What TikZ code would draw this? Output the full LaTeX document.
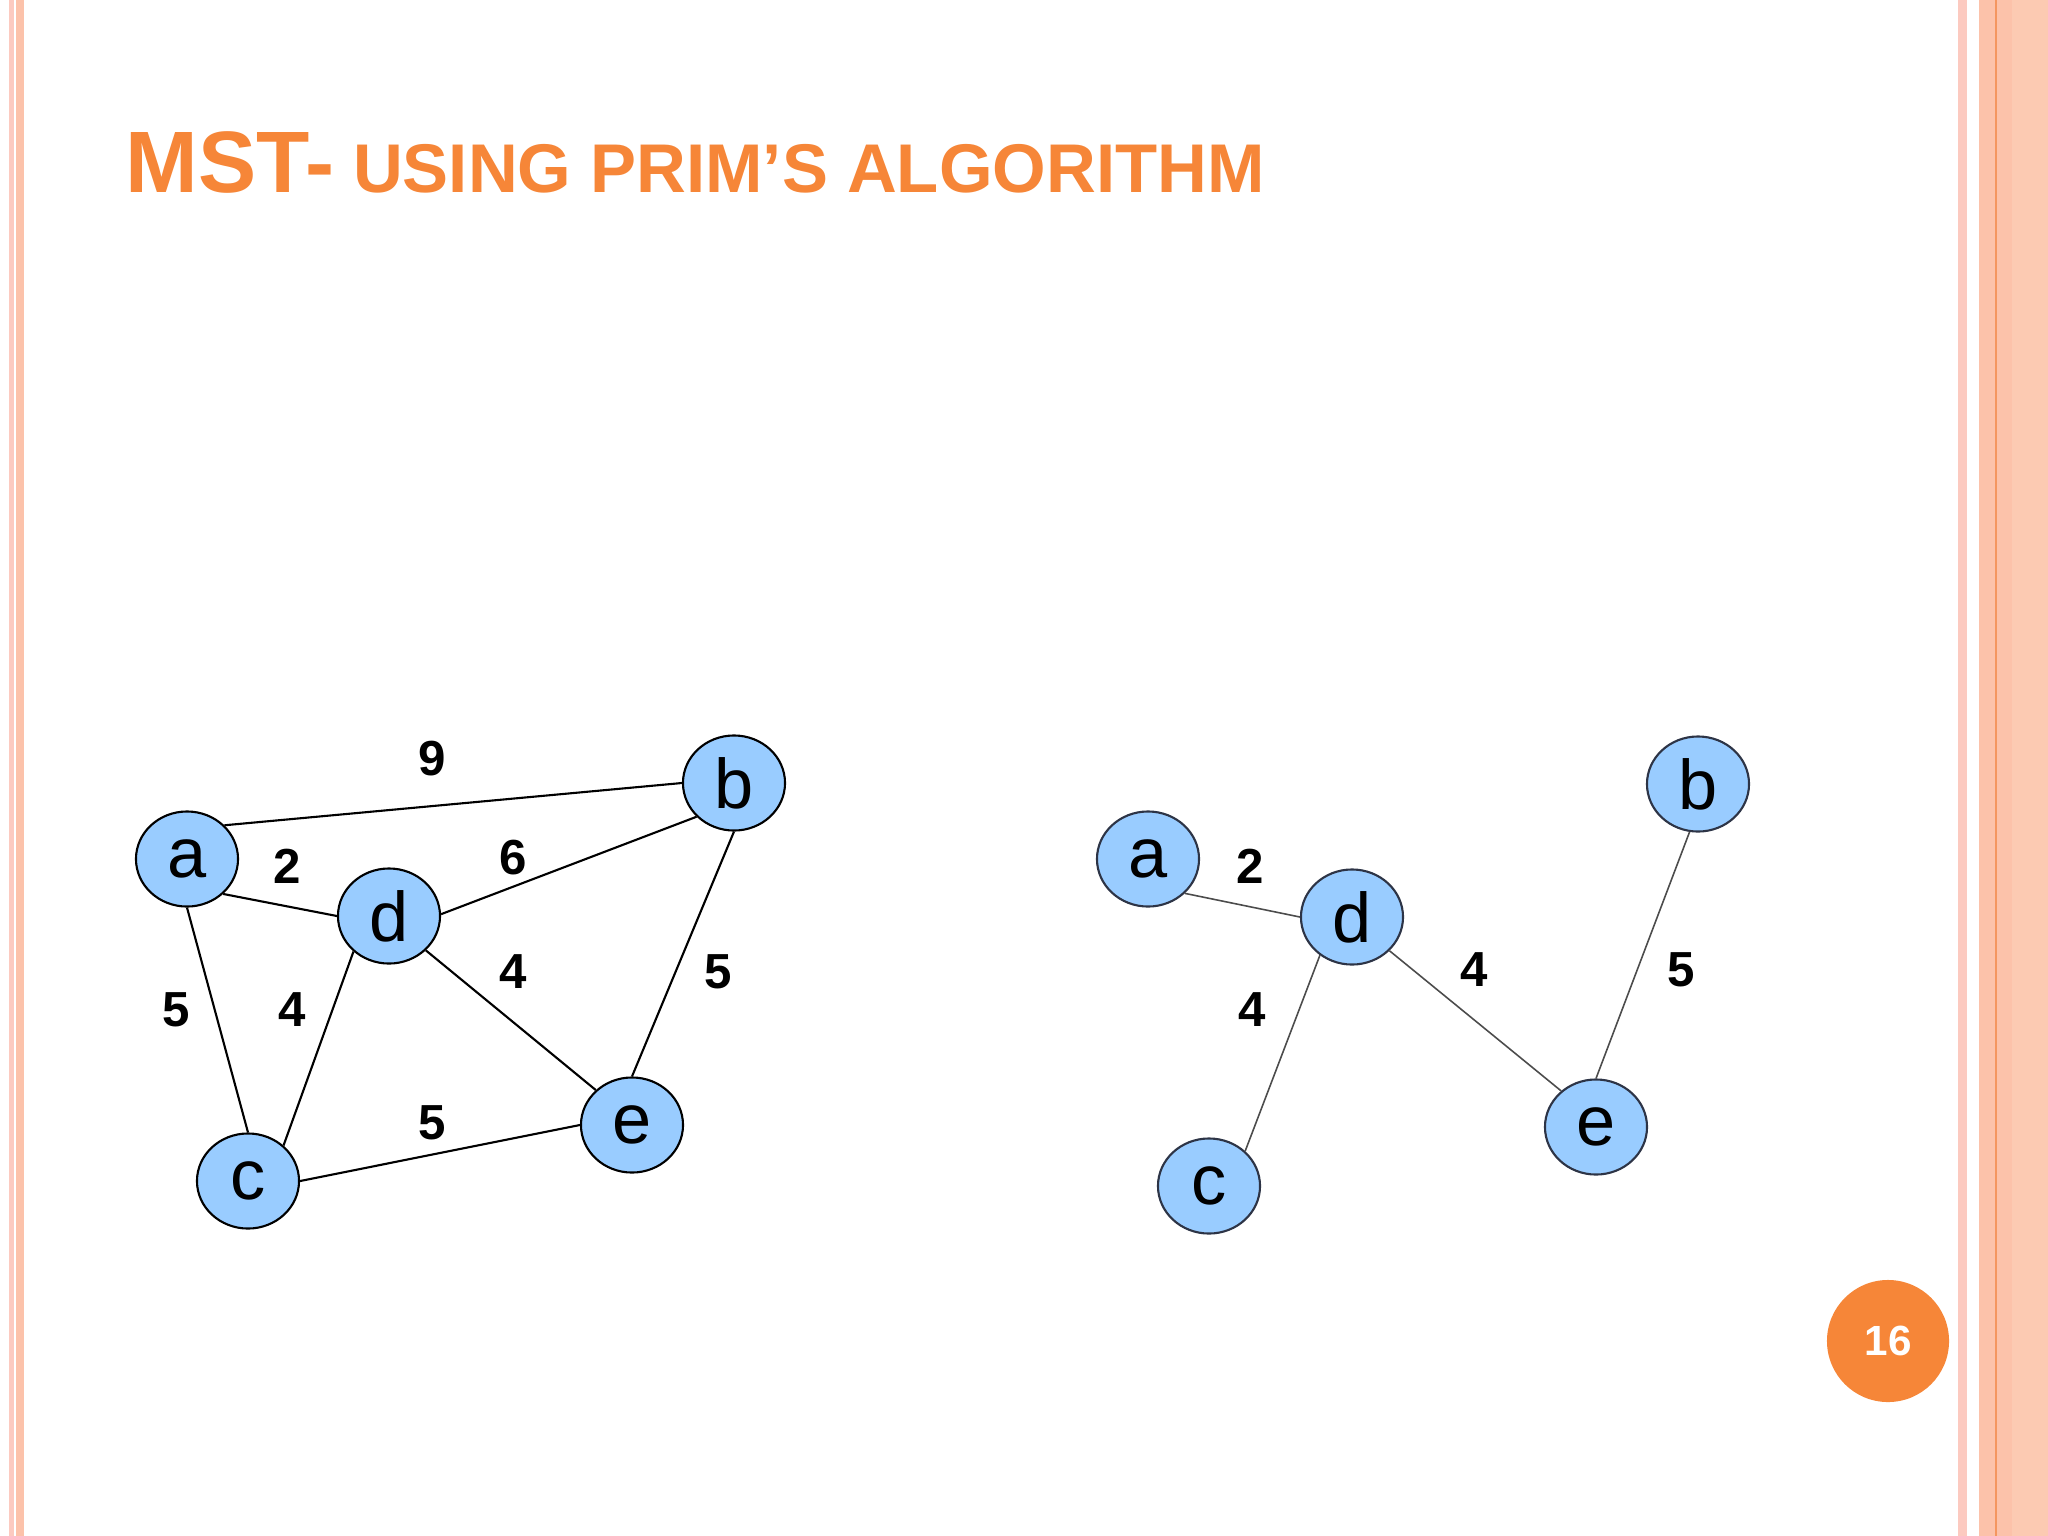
\documentclass[tikz,border=0pt]{standalone}
\usepackage{fontspec}
\setmainfont{Liberation Sans}
\usetikzlibrary{shapes.geometric}

\definecolor{slideorange}{RGB}{246,134,56}
\definecolor{nodeblue}{RGB}{153,204,255}
\definecolor{stripepink}{RGB}{252,202,192}
\definecolor{stripesalmon}{RGB}{252,194,170}
\definecolor{stripelight}{RGB}{252,202,178}
\definecolor{stripeline}{RGB}{244,150,96}
\definecolor{treeline}{RGB}{45,52,70}

\begin{document}
\begin{tikzpicture}[
  x=0.01cm, y=-0.01cm,
  vert/.style={ellipse, draw=black, line width=0.6pt, fill=nodeblue,
               minimum width=1.02cm, minimum height=0.95cm, inner sep=0pt,
               font=\fontsize{20}{24}\selectfont},
  tvert/.style={vert, draw=treeline},
  wt/.style={font=\bfseries\fontsize{14}{16}\selectfont, inner sep=0pt},
  link/.style={line width=0.6pt},
  tlink/.style={line width=0.45pt, draw=black!70},
  pagenum/.style={circle, fill=slideorange, minimum size=1.22cm, inner sep=0pt,
                  text=white, font=\bfseries\fontsize{12}{14}\selectfont}
]

\useasboundingbox[fill=white] (0,0) rectangle (2048,1536);

\fill[stripepink]   (9,0)    rectangle (13.5,1536);
\fill[stripesalmon] (15.5,0) rectangle (24,1536);
\fill[stripepink]   (1958,0) rectangle (1967,1536);
\fill[stripesalmon] (1979,0) rectangle (2012,1536);
\fill[stripelight]  (2012,0) rectangle (2048,1536);
\fill[stripeline]   (1995,0) rectangle (1997,1536);

\node[anchor=base west, inner sep=0pt, text=slideorange, font=\bfseries] (title)
  at (125,192) {\fontsize{24.8}{28}\selectfont MST-\fontsize{19.6}{22}\selectfont{} USING PRIM’S ALGORITHM};

\node[vert] (a) at (187,859)  {a};
\node[vert] (b) at (734,783)  {b};
\node[vert] (d) at (389,916)  {d};
\node[vert] (c) at (248,1181) {c};
\node[vert] (e) at (632,1125) {e};

\draw[link] (a.42)  -- (b.180);
\draw[link] (a.-44) -- (d.180);
\draw[link] (a.-90) -- (c.90);
\draw[link] (d.2)   -- (b.-138);
\draw[link] (d.-135) -- (c.45);
\draw[link] (d.-43) -- (e.136);
\draw[link] (b.-90) -- (e.90);
\draw[link] (c.0)   -- (e.180);

\node[wt] (wab) at (432,759)  {9};
\node[wt] (wad) at (287,866)  {2};
\node[wt] (wdb) at (513,858)  {6};
\node[wt] (wac) at (176,1010) {5};
\node[wt] (wdc) at (292,1010) {4};
\node[wt] (wde) at (513,972)  {4};
\node[wt] (wbe) at (718,972)  {5};
\node[wt] (wce) at (432,1123) {5};

\node[tvert] (ta) at (1148,859)  {a};
\node[tvert] (tb) at (1698,784)  {b};
\node[tvert] (td) at (1352,917)  {d};
\node[tvert] (tc) at (1209,1186) {c};
\node[tvert] (te) at (1596,1127) {e};

\draw[tlink] (ta.-43)  -- (td.180);
\draw[tlink] (td.-130) -- (tc.44);
\draw[tlink] (td.-42)  -- (te.134);
\draw[tlink] (tb.-100) -- (te.90);

\node[wt] (twad) at (1250,866)  {2};
\node[wt] (twde) at (1474,970)  {4};
\node[wt] (twdc) at (1252,1010) {4};
\node[wt] (twbe) at (1681,970)  {5};

\node[pagenum] (pg) at (1888,1341) {16};

\end{tikzpicture}
\end{document}
